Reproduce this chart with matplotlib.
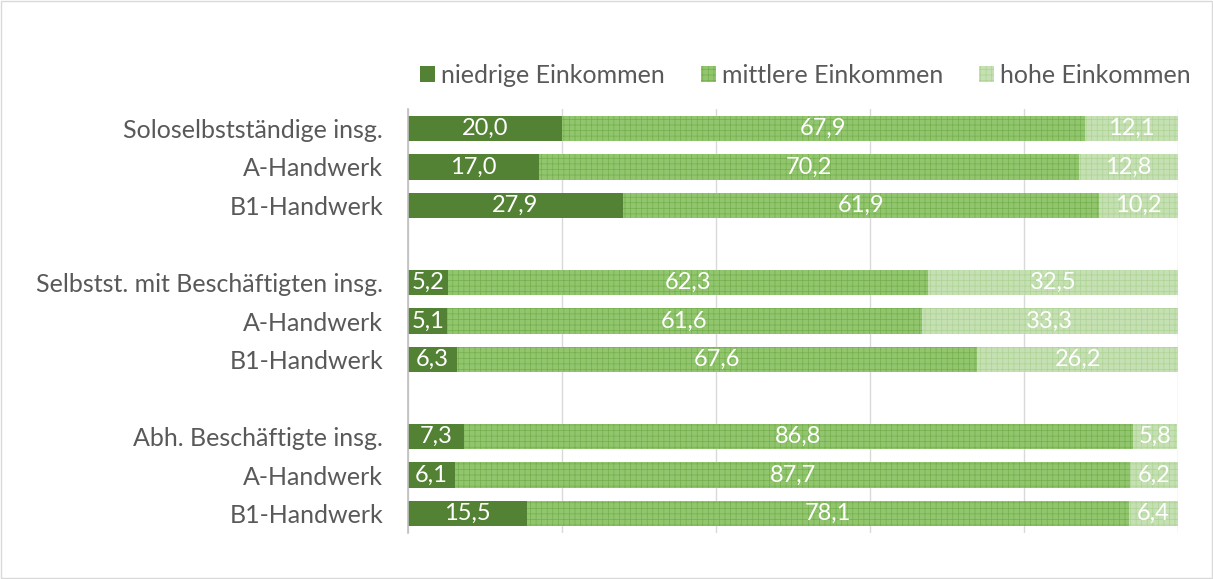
import numpy as np
import matplotlib
matplotlib.use("Agg")
from matplotlib import pyplot as plt

plt.rcParams['font.family'] = ['Lato', 'DejaVu Sans']
plt.rcParams['hatch.linewidth'] = 0.5

# daten
kategorien = ["Soloselbstständige insg.", "A-Handwerk", "B1-Handwerk", "",
              "Selbstst. mit Beschäftigten insg.", "A-Handwerk", "B1-Handwerk", "",
              "Abh. Beschäftigte insg.", "A-Handwerk", "B1-Handwerk"]
niedrig = [20.0, 17.0, 27.9, None, 5.2, 5.1, 6.3, None, 7.3, 6.1, 15.5]
mittel = [67.9, 70.2, 61.9, None, 62.3, 61.6, 67.6, None, 86.8, 87.7, 78.1]
hoch = [12.1, 12.8, 10.2, None, 32.5, 33.3, 26.2, None, 5.8, 6.2, 6.4]
serien = ["niedrige Einkommen", "mittlere Einkommen", "hohe Einkommen"]

farben = ['#548235', '#92C66E', '#C5E0B3']
hatch_farben = [None, '#74AF4C', '#AED394']
hatches = [None, '+++', '+++']

fig = plt.figure(figsize=(12.13, 5.79), dpi=100)
ax = fig.add_axes([0.3364, 0.0794, 0.6347, 0.7323])

y = np.arange(len(kategorien))
links = np.zeros(len(kategorien))
for i, werte in enumerate([niedrig, mittel, hoch]):
    w = np.array([v if v is not None else 0 for v in werte])
    bars = ax.barh(y, w, left=links, height=0.66, color=farben[i],
                   edgecolor=hatch_farben[i] if hatch_farben[i] else farben[i],
                   hatch=hatches[i], linewidth=0, label=serien[i])
    for yy, l, v in zip(y, links, werte):
        if v is not None:
            ax.text(l + v / 2, yy, f"{v:.1f}".replace(".", ","), ha='center',
                    va='center', color='white', fontsize=17)
    links = links + w

ax.set_xlim(0, 100)
ax.set_ylim(10.5, -0.5)
ax.set_yticks(y)
ax.set_yticklabels(kategorien, fontsize=18, color='#595959')
ax.set_xticks([0, 20, 40, 60, 80, 100])
ax.set_xticklabels([])
ax.tick_params(length=0)
ax.yaxis.set_tick_params(pad=18)
ax.grid(axis='x', color='#D9D9D9', linewidth=1)
ax.set_axisbelow(True)
for s in ['top', 'right', 'bottom']:
    ax.spines[s].set_visible(False)
ax.spines['left'].set_color('#BFBFBF')
ax.spines['left'].set_linewidth(1.2)

leg = ax.legend(loc='center left', bbox_to_anchor=(0.016, 1.08), ncol=3, frameon=False,
                fontsize=18, handlelength=0.6, handleheight=0.6, handletextpad=0.24,
                columnspacing=1.44, borderaxespad=0, borderpad=0)
for t in leg.get_texts():
    t.set_color('#595959')

# rahmen
fig.patches.append(plt.Rectangle((0.001, 0.001), 0.998, 0.998, transform=fig.transFigure,
                                 fill=False, edgecolor='#D9D9D9', linewidth=1))

fig.savefig("out.png", dpi=100)
